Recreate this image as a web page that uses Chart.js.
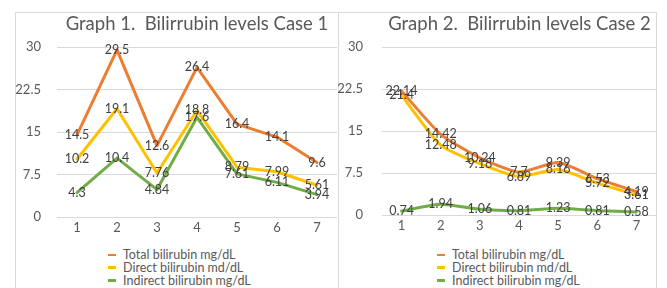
<!DOCTYPE html>
<html><head><meta charset="utf-8">
<script src="https://cdn.jsdelivr.net/npm/chart.js@4/dist/chart.umd.min.js"></script>
<style>
body{margin:0;width:667px;height:288px;overflow:hidden;background:#fff;font-family:Lato,"Open Sans",sans-serif;}
.panel{position:absolute;top:12px;height:300px;border:1px solid #d9d9d9;box-sizing:border-box;}
#p1{left:15px;width:324px;}
#p2{left:338px;width:319px;}
canvas{position:absolute;}
#c1{left:15px;top:12px;}
#c2{left:338px;top:12px;}
.title{position:absolute;top:12px;height:22px;text-align:center;white-space:pre;color:#595959;font-size:18.5px;line-height:22px;}
.legend{position:absolute;top:249px;color:#595959;font-size:12.5px;line-height:12.8px;}
.legend div{white-space:nowrap;}
.legend span{display:inline-block;width:8px;height:2.5px;margin-right:7px;vertical-align:middle;position:relative;top:-1px;}
</style></head>
<body>
<div class="panel" id="p1"></div>
<div class="panel" id="p2"></div>
<canvas id="c1" width="323" height="230" style="width:323px;height:230px"></canvas>
<canvas id="c2" width="319" height="230" style="width:319px;height:230px"></canvas>
<div class="title" style="left:57px;width:280px">Graph 1.  Bilirrubin levels Case 1</div>
<div class="title" style="left:382px;width:275px">Graph 2.  Bilirrubin levels Case 2</div>
<div class="legend" id="lg1" style="left:108px"></div>
<div class="legend" id="lg2" style="left:437px"></div>
<script>
const categories = ["1","2","3","4","5","6","7"];
const seriesNames = ["Total bilirubin mg/dL","Direct bilirubin md/dL","Indirect bilirubin mg/dL"];
const seriesColors = ["#ED7D31","#FFC000","#70AD47"];
const yTicks = [0,7.5,15,22.5,30];

const case1Total    = [14.5, 29.5, 12.6, 26.4, 16.4, 14.1, 9.6];
const case1Direct   = [10.2, 19.1, 7.76, 18.8, 8.79, 7.99, 5.61];
const case1Indirect = [4.3, 10.4, 4.84, 17.6, 7.61, 6.11, 3.94];

const case2Total    = [22.14, 14.42, 10.24, 7.7, 9.39, 6.53, 4.19];
const case2Direct   = [21.4, 12.48, 9.18, 6.89, 8.16, 5.72, 3.61];
const case2Indirect = [0.74, 1.94, 1.06, 0.81, 1.23, 0.81, 0.58];

const valueLabels = {
  id:'valueLabels',
  afterDatasetsDraw(chart){
    const ctx = chart.ctx; ctx.save();
    ctx.font = '12.5px Lato'; ctx.fillStyle = '#404040';
    ctx.textAlign = 'center'; ctx.textBaseline = 'middle';
    chart.data.datasets.forEach((ds,i)=>{
      const meta = chart.getDatasetMeta(i);
      meta.data.forEach((pt,j)=>{ ctx.fillText(String(ds.data[j]), pt.x, pt.y); });
    });
    ctx.restore();
  }
};

function makeChart(id, series, yWidth, yPad, tension){
  return new Chart(document.getElementById(id), {
    type:'line',
    data:{
      labels:categories,
      datasets: series.map((d,i)=>({
        label:seriesNames[i], data:d, borderColor:seriesColors[i], backgroundColor:seriesColors[i],
        borderWidth:3, pointRadius:0, tension:tension, order:3-i, borderCapStyle:'round', borderJoinStyle:'round'
      }))
    },
    options:{
      responsive:false, animation:false, devicePixelRatio:1,
      layout:{padding:{top:35,right:1,left:0,bottom:0}},
      plugins:{legend:{display:false},title:{display:false},tooltip:{enabled:false}},
      scales:{
        x:{
          offset:true,
          grid:{display:false,drawTicks:false,offset:true}, border:{display:false},
          ticks:{color:'#595959',font:{family:'Lato',size:13},padding:3,maxRotation:0},
          afterFit(s){ s.height = 25; }
        },
        y:{
          min:0, max:30,
          afterBuildTicks(s){ s.ticks = yTicks.map(v=>({value:v})); },
          grid:{color:'#d9d9d9',lineWidth:1,drawTicks:false}, border:{display:false},
          ticks:{color:'#595959',font:{family:'Lato',size:13},padding:yPad},
          afterFit(s){ s.width = yWidth; }
        }
      }
    },
    plugins:[valueLabels]
  });
}

makeChart('c1',[case1Total,case1Direct,case1Indirect],42,16,0);
makeChart('c2',[case2Total,case2Direct,case2Indirect],44,19,0.2);

function legend(id){
  const el = document.getElementById(id);
  seriesNames.forEach((n,i)=>{
    const row = document.createElement('div');
    const sw = document.createElement('span'); sw.style.background = seriesColors[i];
    row.appendChild(sw); row.appendChild(document.createTextNode(n));
    el.appendChild(row);
  });
}
legend('lg1'); legend('lg2');
</script>
</body></html>
